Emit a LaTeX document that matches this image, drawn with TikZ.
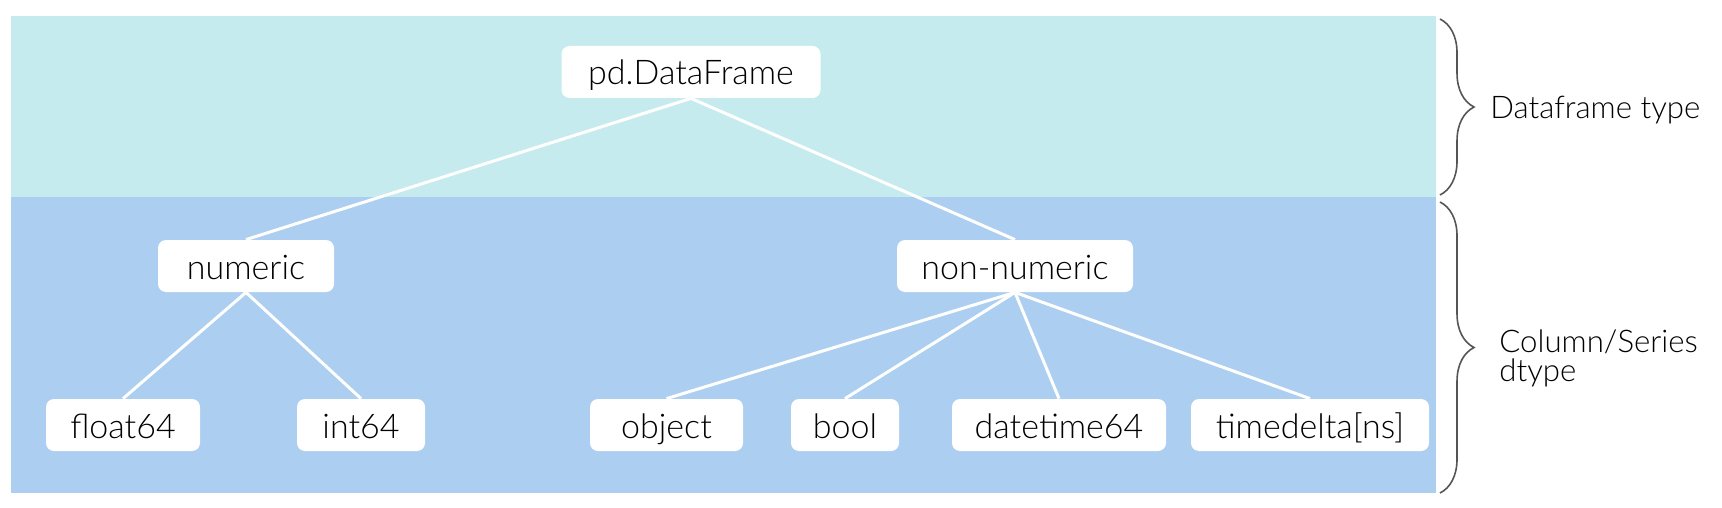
\documentclass[tikz,border=0pt]{standalone}
\usepackage{fontspec}
\setmainfont{Lato Light}
\usetikzlibrary{decorations.pathreplacing}
\definecolor{topband}{HTML}{C6EBEE}
\definecolor{botband}{HTML}{ACCEF1}
\definecolor{bracegray}{HTML}{555555}
\tikzset{
  box/.style={draw=none, fill=white, rounded corners=4pt, inner sep=0pt,
    minimum height=26pt, text height=13pt, text depth=0pt,
    font=\fontsize{17}{20}\selectfont, text=black},
  link/.style={draw=white, line width=1.5pt},
  bracepath/.style={draw=bracegray, line width=0.8pt, decorate,
    decoration={brace, amplitude=17pt}},
  sidetext/.style={font=\fontsize{15.6}{14.5}\selectfont, text=black, inner sep=0pt}
}
\begin{document}
\begin{tikzpicture}[x=0.5pt,y=-0.5pt]
\useasboundingbox (0,0) rectangle (1722,508);
\fill[topband] (11,16) rectangle (1436,197);
\fill[botband] (11,197) rectangle (1436,493);

\node[box, minimum width=129.5pt] (pd) at (691,72) {pd.DataFrame};
\node[box, minimum width=88pt] (num) at (246,266) {numeric};
\node[box, minimum width=118pt] (non) at (1015,266) {non-numeric};
\node[box, minimum width=77pt] (f64) at (123,425) {float64};
\node[box, minimum width=64pt] (i64) at (361,425) {int64};
\node[box, minimum width=76.5pt] (obj) at (666.5,425) {object};
\node[box, minimum width=54pt] (bool) at (845,425) {bool};
\node[box, minimum width=107pt] (dt) at (1059,425) {datetime64};
\node[box, minimum width=119pt] (td) at (1310,425) {timedelta[ns]};

\draw[link] (pd.south) -- (num.north);
\draw[link] (pd.south) -- (non.north);
\draw[link] (num.south) -- (f64.north);
\draw[link] (num.south) -- (i64.north);
\draw[link] (non.south) -- (obj.north);
\draw[link] (non.south) -- (bool.north);
\draw[link] (non.south) -- (dt.north);
\draw[link] (non.south) -- (td.north);

\coordinate (b1t) at (1440,19);
\coordinate (b1b) at (1440,195);
\coordinate (b2t) at (1440,202);
\coordinate (b2b) at (1440,493);
\draw[bracepath] (b1t) -- (b1b);
\draw[bracepath] (b2t) -- (b2b);

\node[sidetext, anchor=base west] (lab1) at (1490,119) {Dataframe type};
\node[sidetext, anchor=base west, align=left] (lab2) at (1499,381) {Column/Series\\dtype};
\end{tikzpicture}
\end{document}
